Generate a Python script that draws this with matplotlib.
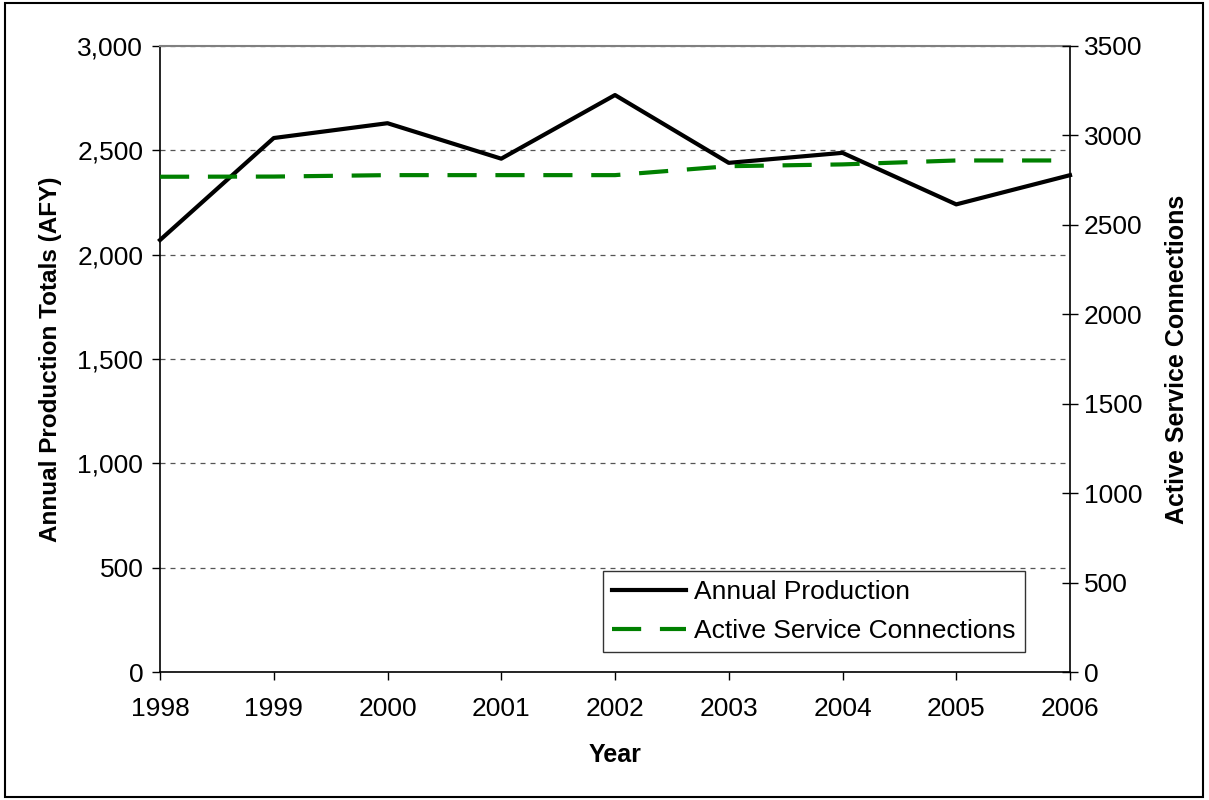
import matplotlib.pyplot as plt
from matplotlib.patches import Rectangle
from matplotlib.ticker import FuncFormatter

plt.rcParams['font.family'] = ['Liberation Sans', 'DejaVu Sans']

years = [1998, 1999, 2000, 2001, 2002, 2003, 2004, 2005, 2006]
production = [2070, 2559, 2630, 2460, 2765, 2440, 2488, 2241, 2381]
connections = [2769, 2770, 2778, 2778, 2778, 2828, 2838, 2860, 2860]

fig = plt.figure(figsize=(12.09, 8), dpi=100)
ax = fig.add_axes([160 / 1209, 128 / 800, 910 / 1209, 626 / 800])

# outer frame round the whole chart
fig.patches.append(Rectangle((5 / 1209, 3 / 800), 1198 / 1209, 794 / 800,
                             transform=fig.transFigure, fill=False,
                             edgecolor='black', linewidth=1.5))

ax.set_xlim(1998, 2006)
ax.set_ylim(0, 3000)
ax.set_xticks(years)
ax.set_yticks(range(0, 3001, 500))
ax.yaxis.set_major_formatter(FuncFormatter(lambda v, p: f'{int(v):,}'))
ax.grid(axis='y', color='#555555', linestyle=(0, (4, 4)), linewidth=0.9)
ax.set_axisbelow(True)

ax.spines['top'].set_color('#808080')
ax.spines['top'].set_linewidth(1.5)
for s in ['left', 'bottom', 'right']:
    ax.spines[s].set_linewidth(1.2)

ax.tick_params(axis='both', labelsize=19, direction='out', length=6, width=1)
ax.tick_params(axis='x', pad=12)
ax.tick_params(axis='y', pad=6)

l1, = ax.plot(years, production, color='black', linewidth=3,
              label='Annual Production', clip_on=False, zorder=3)

ax.set_xlabel('Year', fontsize=18, fontweight='bold', labelpad=16)
ax.set_ylabel('Annual Production Totals (AFY)', fontsize=17.5,
              fontweight='bold', labelpad=11)

ax2 = ax.twinx()
ax2.set_ylim(0, 3500)
ax2.set_yticks(range(0, 3501, 500))
ax2.tick_params(axis='y', labelsize=19, direction='inout', length=12,
                width=1, pad=4)
l2, = ax2.plot(years, connections, color='#008000', linewidth=3,
               linestyle=(0, (7, 4.5)), label='Active Service Connections',
               clip_on=False)
ax2.set_ylabel('Active Service Connections', fontsize=18, fontweight='bold',
               labelpad=16)
for s in ['left', 'bottom', 'right', 'top']:
    ax2.spines[s].set_visible(False)

leg = ax2.legend(handles=[l1, l2], loc='lower right',
                 bbox_to_anchor=(865 / 910, 20 / 626), fontsize=19,
                 frameon=True, fancybox=False, edgecolor='black',
                 handlelength=2.8, handletextpad=0.3, borderpad=0.35,
                 labelspacing=0.55, borderaxespad=0)
leg.get_frame().set_linewidth(1)
leg.set_zorder(5)

fig.savefig('out.png', dpi=100)
